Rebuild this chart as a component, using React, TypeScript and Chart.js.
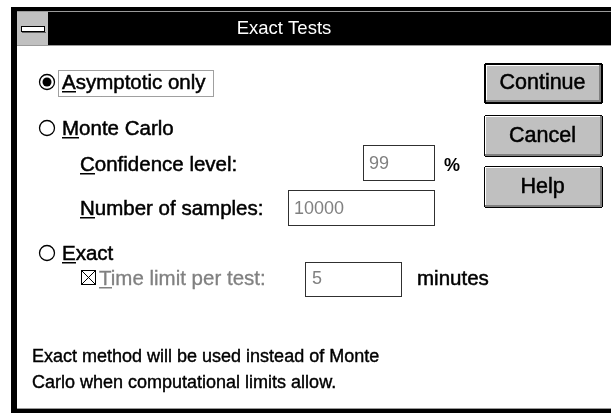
import React, { useEffect, useRef } from "react";
import { Chart, registerables } from "chart.js";

Chart.register(...registerables);

// ---- content (text of the dialog) ----
const dialogTitle = "Exact Tests";
const radioLabels = ["Asymptotic only", "Monte Carlo", "Exact"];
const radioSelected = [true, false, false];
const fieldLabels = ["Confidence level:", "Number of samples:"];
const fieldValues = ["99", "10000"];
const fieldUnits = ["%", ""];
const checkLabel = "Time limit per test:";
const checkValue = "5";
const checkUnit = "minutes";
const buttonLabels = ["Continue", "Cancel", "Help"];
const footerLines = [
  "Exact method will be used instead of Monte",
  "Carlo when computational limits allow.",
];

// ---- layout ----
const W = 611;
const H = 413;
const FONT = "'Liberation Sans', Arial, sans-serif";
const radioY = [82, 128, 253];
const fieldY = [164, 208];
const fieldBox = [
  { x: 363, y: 145, w: 72, h: 36 },
  { x: 288, y: 190, w: 147, h: 36 },
];
const buttonBox = [
  { x: 484, y: 63, h: 41 },
  { x: 484, y: 115, h: 42 },
  { x: 484, y: 166, h: 42 },
];

function fill(ctx: CanvasRenderingContext2D, x: number, y: number, w: number, h: number, c: string) {
  ctx.fillStyle = c;
  ctx.fillRect(x, y, w, h);
}

function textU(
  ctx: CanvasRenderingContext2D,
  s: string,
  x: number,
  y: number,
  font: string,
  color: string,
  underlineFirst: boolean,
  heavy = 0.5
) {
  ctx.font = font;
  ctx.fillStyle = color;
  ctx.textAlign = "left";
  ctx.textBaseline = "alphabetic";
  ctx.fillText(s, x, y);
  if (heavy > 0) {
    ctx.strokeStyle = color;
    ctx.lineWidth = heavy;
    ctx.setLineDash([]);
    ctx.strokeText(s, x, y);
  }
  if (underlineFirst) {
    const w0 = ctx.measureText(s[0]).width;
    fill(ctx, x, y + 2, Math.round(w0), 1.5, color);
  }
}

function strokeBox(ctx: CanvasRenderingContext2D, x: number, y: number, w: number, h: number, c: string) {
  ctx.strokeStyle = c;
  ctx.lineWidth = 1;
  ctx.setLineDash([]);
  ctx.strokeRect(x + 0.5, y + 0.5, w - 1, h - 1);
}

function radio(ctx: CanvasRenderingContext2D, cx: number, cy: number, sel: boolean) {
  ctx.beginPath();
  ctx.arc(cx, cy, 7.5, 0, Math.PI * 2);
  ctx.fillStyle = "#fff";
  ctx.fill();
  ctx.strokeStyle = "#000";
  ctx.lineWidth = 1.3;
  ctx.setLineDash([]);
  ctx.stroke();
  if (sel) {
    ctx.beginPath();
    ctx.arc(cx, cy, 4.5, 0, Math.PI * 2);
    ctx.fillStyle = "#000";
    ctx.fill();
  }
}

function button(
  ctx: CanvasRenderingContext2D,
  x: number,
  y: number,
  w: number,
  h: number,
  label: string,
  isDefault: boolean
) {
  const b = isDefault ? 2 : 1;
  fill(ctx, x, y, w, h, "#000");
  fill(ctx, x + b, y + b, w - 2 * b, h - 2 * b, "#c0c0c0");
  // highlight
  fill(ctx, x + b, y + b, w - 2 * b - 1, 1, "#ffffff");
  fill(ctx, x + b, y + b, 1, h - 2 * b - 1, "#ffffff");
  // shadow
  fill(ctx, x + b, y + h - b - 2, w - 2 * b, 2, "#808080");
  fill(ctx, x + w - b - 2, y + b, 2, h - 2 * b, "#808080");
  // rounded corners
  fill(ctx, x, y, 1, 1, "#fff");
  fill(ctx, x + w - 1, y, 1, 1, "#fff");
  fill(ctx, x, y + h - 1, 1, 1, "#fff");
  fill(ctx, x + w - 1, y + h - 1, 1, 1, "#fff");
  ctx.font = `21.5px ${FONT}`;
  ctx.fillStyle = "#000";
  ctx.strokeStyle = "#000";
  ctx.lineWidth = 0.5;
  ctx.textAlign = "center";
  ctx.textBaseline = "middle";
  ctx.fillText(label, x + w / 2 - 1, y + h / 2);
  ctx.strokeText(label, x + w / 2 - 1, y + h / 2);
}

const dialogPlugin = {
  id: "dialog",
  afterDraw(chart: any) {
    const ctx: CanvasRenderingContext2D = chart.ctx;
    ctx.save();
    fill(ctx, 0, 0, W, H, "#ffffff");

    // frame + title bar
    fill(ctx, 11, 7, W - 11, 39, "#000");
    fill(ctx, 17, 11, W - 17, 1, "#9a9a9a");
    fill(ctx, 17, 45, W - 17, 1, "#9a9a9a");
    fill(ctx, 11, 7, 6, H - 7, "#000");
    fill(ctx, 17, 408, W - 17, 1, "#9a9a9a");
    fill(ctx, 11, 409, W - 11, H - 409, "#000");
    // system menu box
    fill(ctx, 17, 12, 32, 33, "#c0c0c0");
    fill(ctx, 48, 12, 1, 33, "#000");
    fill(ctx, 21, 26, 24, 6, "#000");
    fill(ctx, 22, 27, 22, 4, "#ffffff");
    fill(ctx, 22, 32, 24, 1, "#606060");

    ctx.font = `18.5px ${FONT}`;
    ctx.fillStyle = "#fff";
    ctx.textAlign = "center";
    ctx.textBaseline = "middle";
    ctx.fillText(dialogTitle, 284, 29);

    const lab = `20.5px ${FONT}`;
    // radios
    radioLabels.forEach((s, i) => {
      radio(ctx, 47, radioY[i], radioSelected[i]);
      textU(ctx, s, 62, radioY[i] + 7, lab, "#000", true);
    });
    // focus rectangle
    ctx.strokeStyle = "#404040";
    ctx.lineWidth = 1;
    ctx.setLineDash([1, 1]);
    ctx.strokeRect(58.5, 70.5, 155, 26);
    ctx.setLineDash([]);

    // fields
    fieldLabels.forEach((s, i) => {
      textU(ctx, s, 80, fieldY[i] + 7, lab, "#000", true);
      const b = fieldBox[i];
      strokeBox(ctx, b.x, b.y, b.w, b.h, "#303030");
      textU(ctx, fieldValues[i], b.x + 6, b.y + b.h / 2 + 6, `18px ${FONT}`, "#808080", false, 0);
      if (fieldUnits[i]) {
        textU(ctx, fieldUnits[i], b.x + b.w + 9, fieldY[i] + 7, `bold 18px ${FONT}`, "#000", false, 0);
      }
    });

    // check box row
    const cy = 278;
    fill(ctx, 81, cy - 8, 15, 15, "#000");
    fill(ctx, 82, cy - 7, 13, 13, "#fff");
    ctx.strokeStyle = "#000";
    ctx.lineWidth = 1;
    ctx.beginPath();
    ctx.moveTo(82, cy - 7);
    ctx.lineTo(95, cy + 6);
    ctx.moveTo(95, cy - 7);
    ctx.lineTo(82, cy + 6);
    ctx.stroke();
    textU(ctx, checkLabel, 99, cy + 7, lab, "#808080", true, 0.3);
    strokeBox(ctx, 305, 262, 97, 35, "#303030");
    textU(ctx, checkValue, 312, cy + 6, `18px ${FONT}`, "#808080", false, 0);
    textU(ctx, checkUnit, 417, cy + 7, lab, "#000", false);

    // footer
    textU(ctx, footerLines[0], 32, 362, `18px ${FONT}`, "#000", false, 0.4);
    textU(ctx, footerLines[1], 32, 388, `18px ${FONT}`, "#000", false, 0.4);

    // buttons
    buttonLabels.forEach((s, i) => {
      const b = buttonBox[i];
      button(ctx, b.x, b.y, 119, b.h, s, i === 0);
    });
    ctx.restore();
  },
};

export default function App() {
  const ref = useRef<HTMLCanvasElement>(null);
  useEffect(() => {
    document.body.style.margin = "0";
    const chart = new Chart(ref.current!, {
      type: "scatter",
      data: { datasets: [] },
      options: {
        responsive: false,
        animation: false,
        events: [],
        devicePixelRatio: 1,
        layout: { padding: 0 },
        scales: { x: { display: false }, y: { display: false } },
        plugins: { legend: { display: false }, tooltip: { enabled: false } },
      },
      plugins: [dialogPlugin],
    });
    return () => chart.destroy();
  }, []);
  return (
    <div style={{ position: "absolute", left: 0, top: 0, width: W, height: H }}>
      <canvas ref={ref} width={W} height={H} style={{ display: "block" }} />
    </div>
  );
}
